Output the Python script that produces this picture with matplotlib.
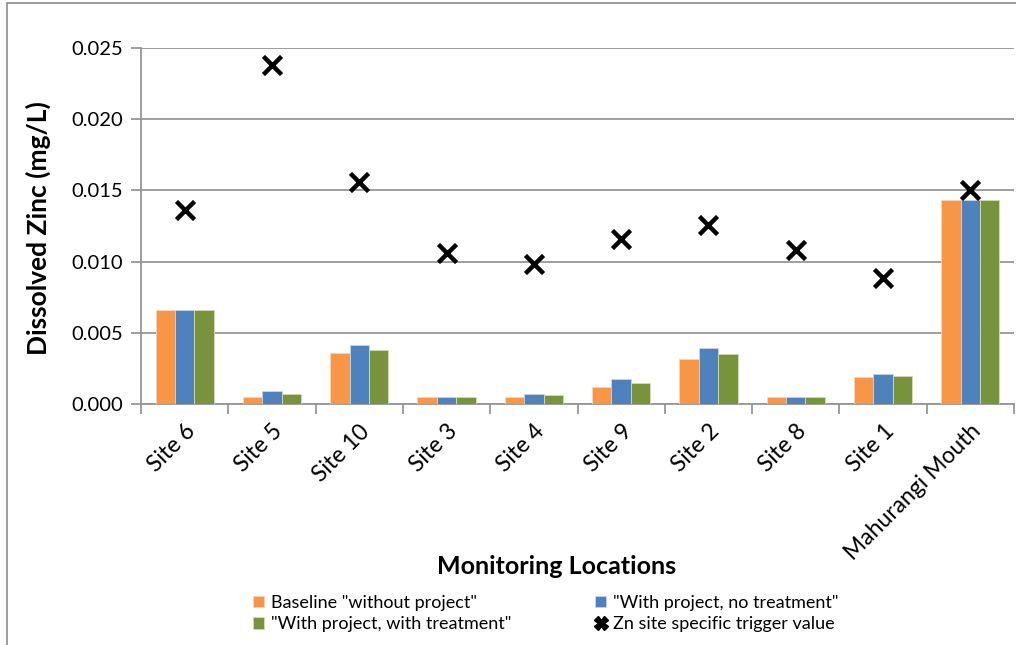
from matplotlib import pyplot as plt
from matplotlib import patches
from matplotlib.lines import Line2D
import numpy as np

plt.rcParams['font.family'] = ['Lato', 'DejaVu Sans']

# Monitoring locations and dissolved zinc values (mg/L)
sites = ['Site 6', 'Site 5', 'Site 10', 'Site 3', 'Site 4', 'Site 9',
         'Site 2', 'Site 8', 'Site 1', 'Mahurangi Mouth']
baseline = [0.0066, 0.0005, 0.00355, 0.0005, 0.0005, 0.0012,
            0.00313, 0.0005, 0.00188, 0.01434]
no_treatment = [0.0066, 0.0009, 0.00413, 0.0005, 0.0007, 0.00177,
                0.00393, 0.0005, 0.00214, 0.01434]
with_treatment = [0.0066, 0.0007, 0.0038, 0.0005, 0.0006, 0.00147,
                  0.00348, 0.0005, 0.00197, 0.01434]
trigger = [0.01365, 0.0238, 0.0156, 0.0106, 0.0098, 0.0116,
           0.01258, 0.0108, 0.00885, 0.0150]
yticks = [0.000, 0.005, 0.010, 0.015, 0.020, 0.025]

W, H = 1016, 645
fig = plt.figure(figsize=(W/100, H/100), dpi=100)
ax = fig.add_axes([141/W, 1-404/H, (1014-141)/W, (404-48)/H])

# chart area border (only top and left visible in the original)
fig.patches.append(patches.Rectangle((7/W, -0.02), 1.02, 1-3/H+0.02,
                                     transform=fig.transFigure, fill=False,
                                     edgecolor='#8c8c8c', linewidth=1.2))

x = np.arange(len(sites))
bw = 0.222
b1 = ax.bar(x - bw, baseline, bw, color='#F79646', edgecolor='#fbd5b5',
            linewidth=0.6, zorder=3)
b2 = ax.bar(x, no_treatment, bw, color='#4F81BD', edgecolor='#c6d6ea',
            linewidth=0.6, zorder=3)
b3 = ax.bar(x + bw, with_treatment, bw, color='#77933C', edgecolor='#d1dcb5',
            linewidth=0.6, zorder=3)
ax.scatter(x, trigger, marker='x', s=170, color='black', linewidths=3.2,
           zorder=4)

ax.set_xlim(-0.5, len(sites) - 0.5)
ax.set_ylim(0, 0.025)
ax.set_yticks(yticks)
ax.set_yticklabels(['%.3f' % v for v in yticks], fontsize=14.5)
ax.yaxis.grid(True, color='#969696', linewidth=1.3, zorder=0)

ax.set_xticks(x)
ax.set_xticklabels(sites, rotation=45, ha='right', va='top',
                   rotation_mode='anchor', fontsize=16.5)
ax.tick_params(axis='x', length=0, pad=12)
ax.set_xticks(np.arange(len(sites) + 1) - 0.5, minor=True)
ax.tick_params(axis='x', which='minor', length=7, color='#969696', width=1.3)
ax.tick_params(axis='y', length=7, color='#969696', width=1.3, pad=6)

for s in ['top', 'right']:
    ax.spines[s].set_visible(False)
for s in ['left', 'bottom']:
    ax.spines[s].set_color('#969696')
    ax.spines[s].set_linewidth(1.3)

fig.text(38/W, 1-228/H, 'Dissolved Zinc (mg/L)', fontsize=19,
         fontweight='bold', rotation=90, ha='center', va='center')
fig.text(557/W, 1-566/H, 'Monitoring Locations', fontsize=18,
         fontweight='bold', ha='center', va='center')

x_handle = Line2D([], [], marker='X', color='black', linestyle='',
                  markersize=10)
handles = [b1, b3, b2, x_handle]
labels = ['Baseline "without project"', '"With project, with treatment"',
          '"With project, no treatment"', 'Zn site specific trigger value']
fig.legend(handles, labels, ncol=2, loc='upper left',
           bbox_to_anchor=(253/W, 1-595/H), frameon=False, fontsize=13,
           handlelength=0.6, handleheight=0.6, handletextpad=0.4,
           columnspacing=4.65, labelspacing=0.3, borderpad=0,
           borderaxespad=0)

fig.savefig('out.png', dpi=100)
